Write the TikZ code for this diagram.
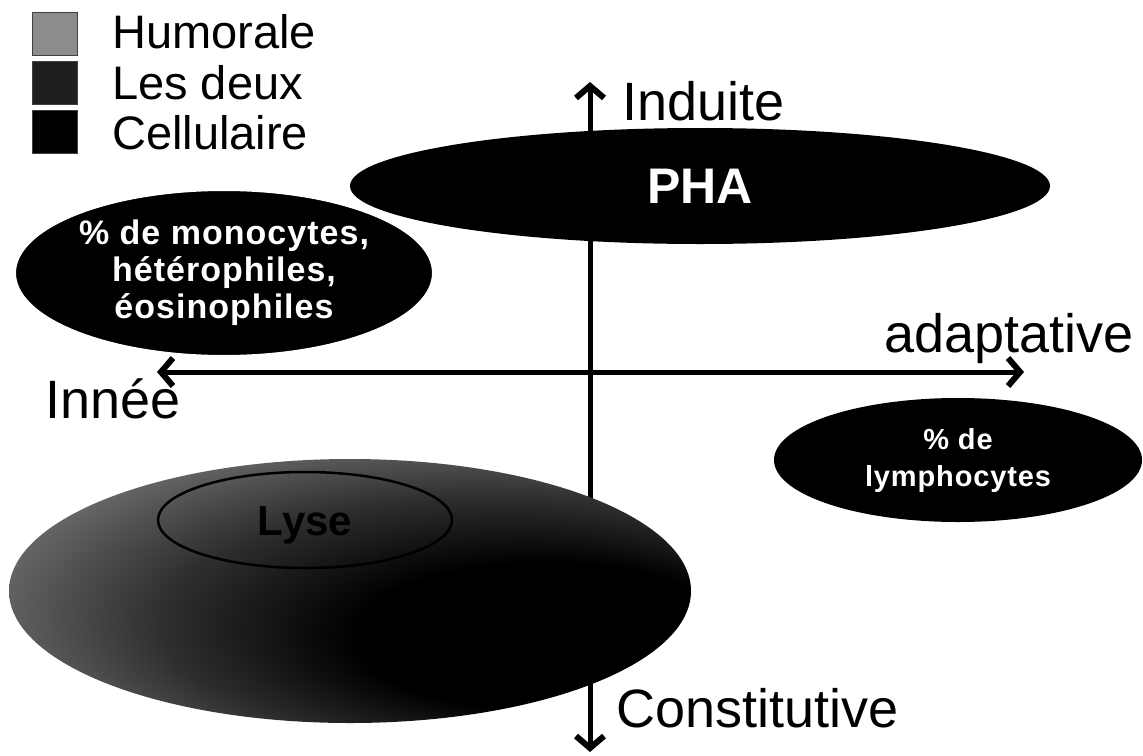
\documentclass[tikz,border=0pt]{standalone}
\usepackage{fontspec}
\setmainfont{Liberation Sans}
\usetikzlibrary{shapes.geometric,arrows.meta}
\pgfdeclareradialshading{bigshade}{\pgfpoint{20bp}{-12bp}}{color(0bp)=(black);color(14bp)=(black);color(24bp)=(black!82);color(34bp)=(black!58);color(44bp)=(black!48);color(50bp)=(black!46)}
\begin{document}
\begin{tikzpicture}[x=1pt,y=-1pt,
  axisline/.style={line width=5pt,{Straight Barb[length=12pt,width=28pt,line width=6pt]}-{Straight Barb[length=12pt,width=28pt,line width=6pt]}},
  blob/.style={ellipse,inner sep=0pt,fill=black,text=white,align=center},
  sq/.style={draw=black!75,line width=0.8pt,minimum width=45pt,minimum height=43pt,inner sep=0pt},
  legtext/.style={font=\fontsize{47}{52}\selectfont,anchor=base west,inner sep=0pt},
  axtext/.style={font=\fontsize{54}{60}\selectfont,inner sep=0pt}]
\useasboundingbox (0,0) rectangle (1143,755);
\fill[white] (0,0) rectangle (1143,755);
% legend
\node[sq,fill=black!45] (sqh) at (55,34) {};
\node[sq,fill=black!88] (sqd) at (55,83) {};
\node[sq,fill=black] (sqc) at (55,132) {};
\node[legtext] (th) at (112,48) {Humorale};
\node[legtext] (td) at (112,99) {Les deux};
\node[legtext] (tc) at (112,149) {Cellulaire};
% axes
\coordinate (top) at (590,82);
\coordinate (bot) at (590,752);
\coordinate (lft) at (157,372);
\coordinate (rgt) at (1024,372);
\draw[axisline] (bot) -- (top);
\draw[axisline] (lft) -- (rgt);
% axis labels
\node[axtext,anchor=base west] (ind) at (622,120) {Induite};
\node[axtext,anchor=base east] (ada) at (1134,352) {adaptative};
\node[axtext,anchor=base west] (inn) at (45,418) {Innée};
\node[axtext,anchor=base west] (con) at (616,727) {Constitutive};
% ellipses
\node[blob,minimum width=700pt,minimum height=116pt,font=\bfseries\fontsize{50}{54}\selectfont] (pha) at (700,186) {PHA};
\node[blob,draw=white,line width=2pt,minimum width=418pt,minimum height=166pt,font=\bfseries\fontsize{34}{37}\selectfont\addfontfeatures{LetterSpace=3}] (mono) at (224,273) {\% de monocytes,\\hétérophiles,\\éosinophiles};
\node[blob,minimum width=368pt,minimum height=124pt,font=\bfseries\fontsize{29}{37}\selectfont\addfontfeatures{LetterSpace=3}] (lym) at (958,460) {\% de\\lymphocytes};
\node[ellipse,inner sep=0pt,shade,shading=bigshade,minimum width=682pt,minimum height=264pt] (big) at (350,591) {};
\node[ellipse,draw=black,line width=2.5pt,minimum width=294pt,minimum height=96pt,inner sep=0pt] (lyse) at (305,520) {};
\node[font=\bfseries\fontsize{42}{46}\selectfont,text=black,inner sep=0pt] (lysetext) at (305,525) {Lyse};
\end{tikzpicture}
\end{document}
